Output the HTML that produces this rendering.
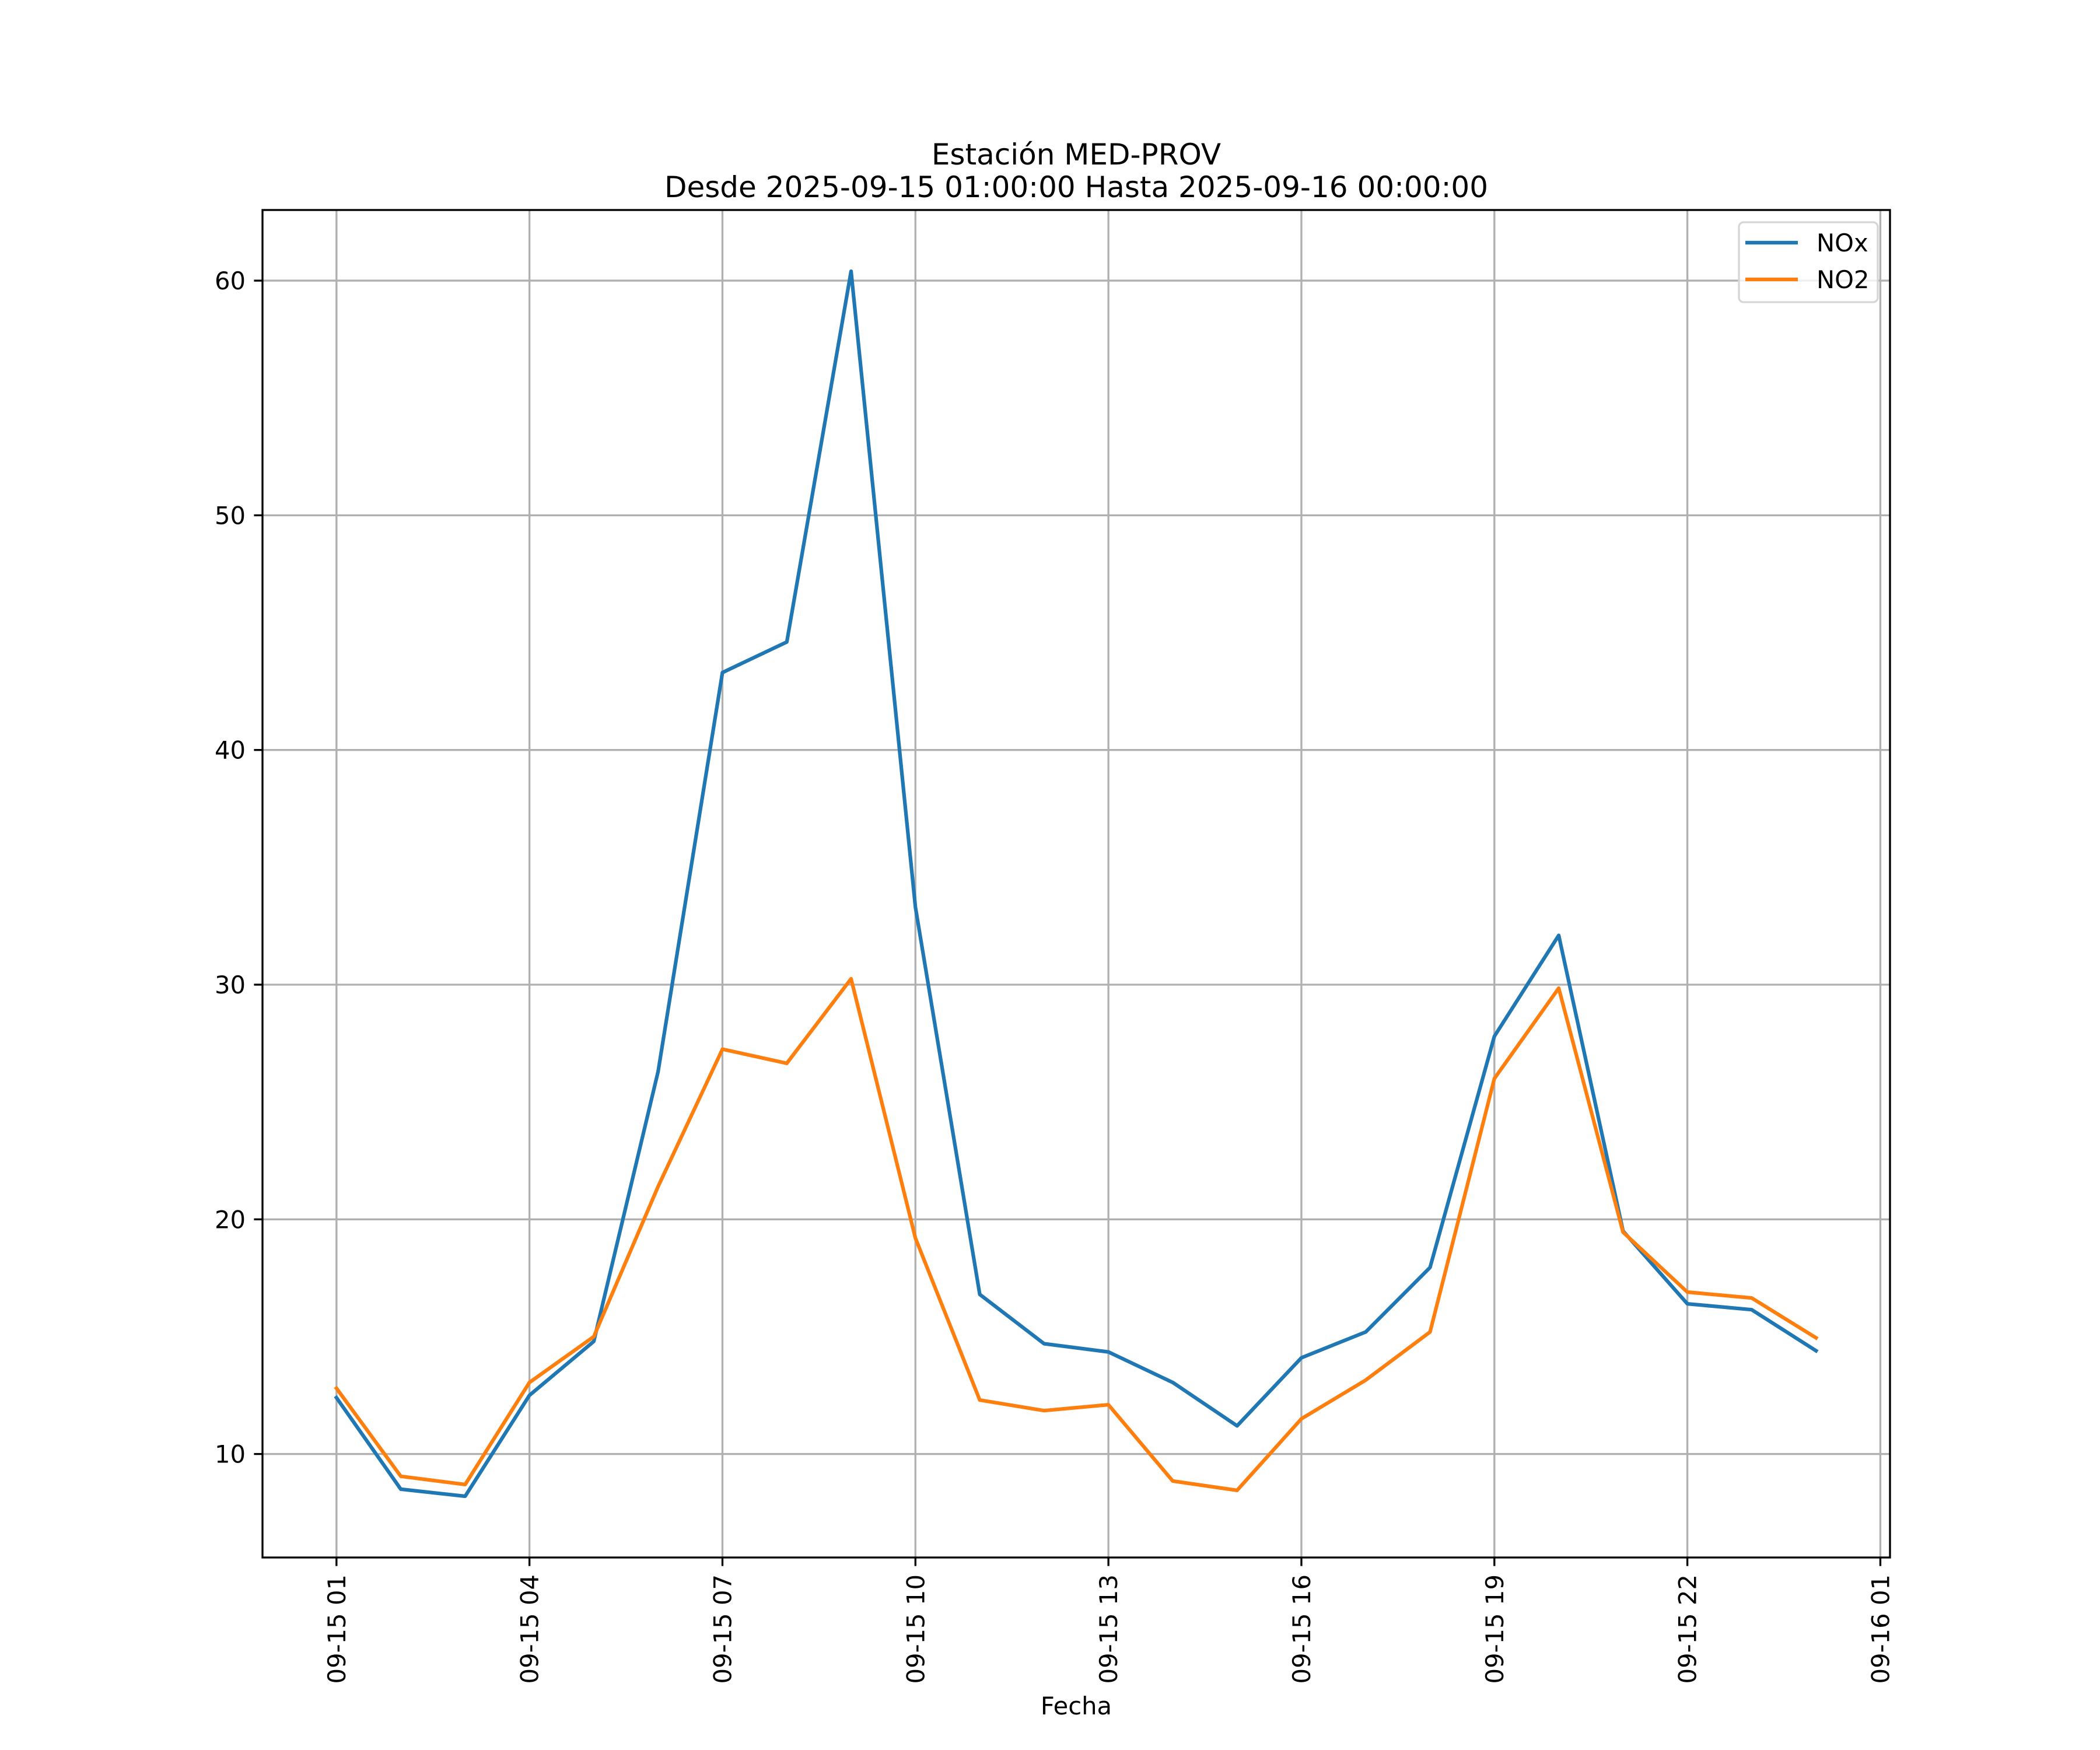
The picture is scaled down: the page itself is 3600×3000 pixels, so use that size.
<!DOCTYPE html>
<html><head><meta charset="utf-8"><style>
html,body{margin:0;padding:0;background:#fff}
svg{display:block;font-family:"DejaVu Sans","Liberation Sans",sans-serif}
</style></head><body>
<svg id="chart" width="3600" height="3000" viewBox="0 0 3600 3000" xmlns="http://www.w3.org/2000/svg">
<rect width="3600" height="3000" fill="#fff"/>
<text x="1845" y="282" font-size="50" text-anchor="middle">Estación MED-PROV</text>
<text x="1845" y="338" font-size="50" text-anchor="middle">Desde 2025-09-15 01:00:00 Hasta 2025-09-16 00:00:00</text>
<g id="grid"></g>
<g id="series"></g>
<rect x="450" y="360" width="2790" height="2310" fill="none" stroke="#000" stroke-width="3.33"/>
<g id="ticks"></g>
<text x="1845" y="2939" font-size="41.7" text-anchor="middle">Fecha</text>
<g>
<rect x="2981" y="381" width="238" height="137" rx="8" fill="#fff" fill-opacity="0.8" stroke="#d6d6d6" stroke-width="3.33"/>
<line x1="2992" y1="416" x2="3082" y2="416" stroke="#1f77b4" stroke-width="6.25"/>
<text x="3114" y="431" font-size="41.7">NOx</text>
<line x1="2992" y1="479" x2="3082" y2="479" stroke="#ff7f0e" stroke-width="6.25"/>
<text x="3114" y="494" font-size="41.7">NO2</text>
</g>
</svg>
<script>
const hours = [1,2,3,4,5,6,7,8,9,10,11,12,13,14,15,16,17,18,19,20,21,22,23,24];
const noxValues = [12.4,8.5,8.2,12.5,14.8,26.3,43.3,44.6,60.4,33.3,16.8,14.7,14.35,13.05,11.2,14.1,15.2,17.95,27.8,32.1,19.5,16.4,16.15,14.4];
const no2Values = [12.8,9.05,8.7,13.05,15.0,21.4,27.25,26.65,30.25,19.2,12.3,11.85,12.1,8.85,8.45,11.5,13.15,15.2,26.0,29.85,19.45,16.9,16.65,14.95];
const xTickHours = [1,4,7,10,13,16,19,22,25];
const xTickLabels = ["09-15 01","09-15 04","09-15 07","09-15 10","09-15 13","09-15 16","09-15 19","09-15 22","09-16 01"];
const yTicks = [10,20,30,40,50,60];

const NS="http://www.w3.org/2000/svg";
const L=450,R=3240,T=360,B=2670;
const xmin=Math.min(...hours),xmax=Math.max(...hours),xpad=(xmax-xmin)*0.05;
const all=noxValues.concat(no2Values);
const ymin=Math.min(...all),ymax=Math.max(...all),ypad=(ymax-ymin)*0.05;
const x0=xmin-xpad,x1=xmax+xpad,y0=ymin-ypad,y1=ymax+ypad;
function sx(h){return L+(h-x0)/(x1-x0)*(R-L);}
function sy(v){return B-(v-y0)/(y1-y0)*(B-T);}
function mk(tag,attrs,parent){const e=document.createElementNS(NS,tag);for(const k in attrs)e.setAttribute(k,attrs[k]);parent.appendChild(e);return e;}
const grid=document.getElementById('grid'),ticks=document.getElementById('ticks'),series=document.getElementById('series');
xTickHours.forEach((h,i)=>{
  const x=sx(h);
  const g=mk('line',{x1:x,y1:T,x2:x,y2:B,stroke:'#b0b0b0','stroke-width':3.33},grid);
  
  
  const t=mk('line',{x1:x,y1:B,x2:x,y2:B+14.6,stroke:'#000','stroke-width':3.33},ticks);
  
  
  const tx=mk('text',{x:0,y:0,'font-size':41.7,'text-anchor':'end',transform:`translate(${x+15},${B+29}) rotate(-90)`},ticks);
  tx.textContent=xTickLabels[i];
  
  
});
yTicks.forEach(v=>{
  const y=sy(v);
  const g=mk('line',{x1:L,y1:y,x2:R,y2:y,stroke:'#b0b0b0','stroke-width':3.33},grid);
  
  
  const t=mk('line',{x1:L-14.6,y1:y,x2:L,y2:y,stroke:'#000','stroke-width':3.33},ticks);
  
  
  const tx=mk('text',{x:L-29,y:y+15,'font-size':41.7,'text-anchor':'end'},ticks);
  tx.textContent=String(v);
  
  
});
function drawLine(vals,color,name){
  const pts=vals.map((v,i)=>sx(hours[i]).toFixed(1)+','+sy(v).toFixed(1)).join(' ');
  const p=mk('polyline',{points:pts,fill:'none',stroke:color,'stroke-width':6.25,'stroke-linejoin':'round','stroke-linecap':'square'},series);
  
  
}
drawLine(noxValues,'#1f77b4','nox-line');
drawLine(no2Values,'#ff7f0e','no2-line');
</script>
</body></html>
